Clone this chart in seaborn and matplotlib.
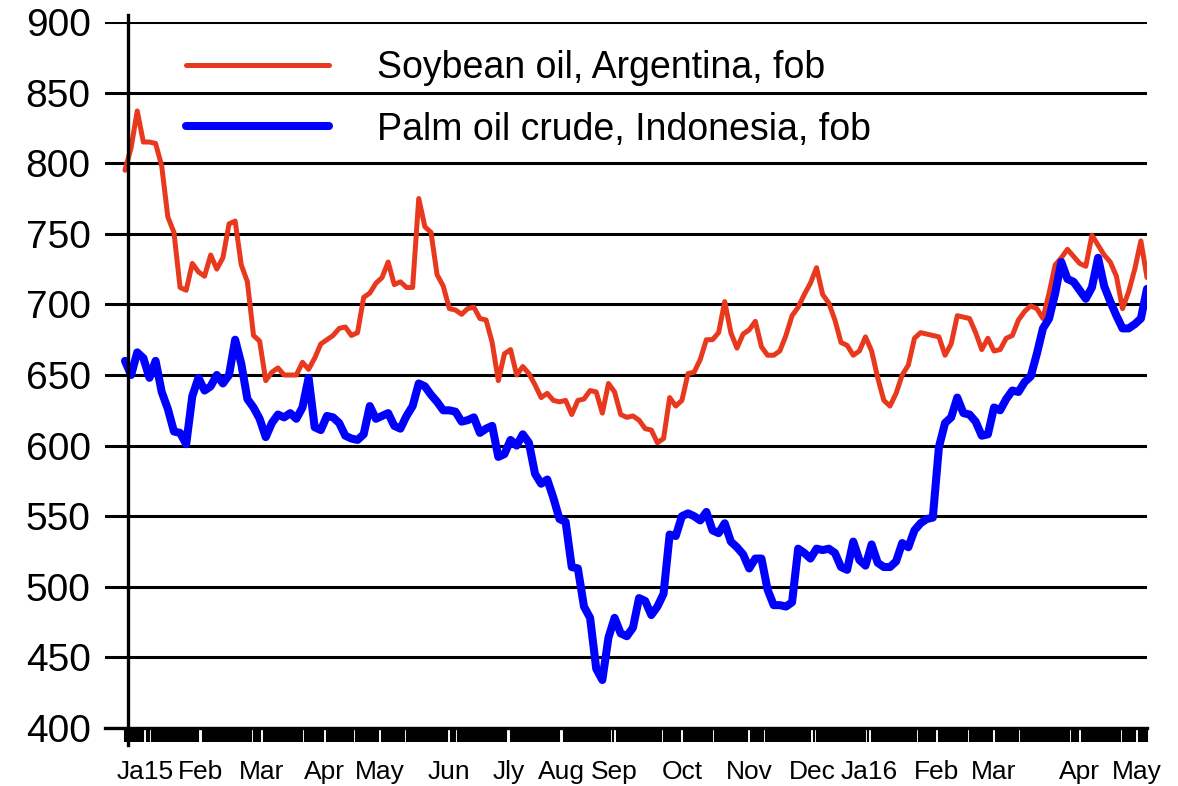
import pandas as pd
import numpy as np
import matplotlib.pyplot as plt
import matplotlib.dates as mdates
import seaborn as sns

# prices in USD/mt, every third day from 1 Jan 2015
dates = pd.date_range('2015-01-01', periods=168, freq='3D')

soybean = [795, 811, 837, 815, 815, 814, 798, 762, 751, 712,
           710, 729, 723, 720, 735, 725, 733, 757, 759, 728,
           716, 678, 674, 646, 652, 655, 650, 650, 650, 659,
           654, 662, 672, 675, 678, 683, 684, 678, 680, 705,
           708, 715, 719, 730, 714, 716, 712, 712, 775, 755,
           751, 721, 713, 697, 696, 693, 697, 698, 690, 689,
           673, 646, 665, 668, 650, 656, 651, 643, 634, 637,
           632, 631, 632, 622, 632, 633, 639, 638, 623, 644,
           638, 622, 620, 621, 618, 612, 611, 602, 605, 634,
           628, 632, 651, 652, 661, 675, 675, 680, 702, 680,
           669, 679, 682, 688, 670, 664, 664, 667, 678, 692,
           698, 707, 715, 726, 707, 701, 689, 673, 671, 664,
           667, 677, 667, 648, 632, 628, 637, 650, 657, 676,
           680, 679, 678, 677, 664, 672, 692, 691, 690, 680,
           668, 676, 667, 668, 676, 678, 689, 695, 699, 697,
           690, 708, 728, 733, 739, 734, 729, 727, 749, 742,
           735, 730, 720, 697, 709, 725, 745, 719]

palm = [660, 650, 666, 662, 648, 660, 638, 626, 610, 609,
        601, 635, 648, 639, 642, 650, 644, 650, 675, 658,
        633, 627, 619, 606, 616, 622, 620, 623, 619, 627,
        648, 613, 611, 621, 620, 616, 607, 605, 604, 608,
        628, 619, 621, 623, 614, 612, 621, 628, 644, 642,
        636, 631, 625, 625, 624, 617, 618, 620, 609, 612,
        614, 592, 594, 604, 600, 608, 602, 580, 573, 576,
        563, 548, 546, 514, 513, 486, 478, 442, 434, 464,
        478, 467, 465, 471, 492, 490, 480, 486, 495, 537,
        536, 550, 552, 550, 547, 553, 540, 538, 545, 532,
        528, 523, 513, 520, 520, 498, 487, 487, 486, 489,
        527, 524, 520, 527, 526, 527, 524, 514, 512, 532,
        519, 515, 530, 517, 514, 514, 518, 531, 528, 540,
        545, 548, 549, 599, 616, 620, 634, 623, 622, 617,
        607, 608, 627, 625, 633, 639, 638, 645, 649, 665,
        683, 690, 708, 730, 718, 716, 710, 704, 712, 733,
        713, 702, 692, 683, 683, 686, 690, 711]

month_labels = ['Ja15', 'Feb', 'Mar', 'Apr', 'May', 'Jun', 'Jly', 'Aug', 'Sep',
                'Oct', 'Nov', 'Dec', 'Ja16', 'Feb', 'Mar', 'Apr', 'May']
label_dates = pd.to_datetime(['2015-01-11', '2015-02-07', '2015-03-09', '2015-04-09',
                              '2015-05-06', '2015-06-09', '2015-07-08', '2015-08-03',
                              '2015-08-29', '2015-10-01', '2015-11-03', '2015-12-04',
                              '2016-01-01', '2016-02-03', '2016-03-02', '2016-04-13',
                              '2016-05-11'])

soy_name = 'Soybean oil, Argentina, fob'
palm_name = 'Palm oil crude, Indonesia, fob'
df = pd.DataFrame({'date': dates, soy_name: soybean, palm_name: palm})

sns.set_style('white')
plt.rcParams['font.family'] = ['Liberation Sans', 'DejaVu Sans']
plt.rcParams['text.color'] = 'black'

fig = plt.figure(figsize=(11.78, 7.86), dpi=100)
ax = fig.add_axes([105 / 1178, 58 / 786, 1042 / 1178, 706 / 786])

sns.lineplot(data=df, x='date', y=soy_name, color='#e8391e', linewidth=3.6,
             label=soy_name, ax=ax)
sns.lineplot(data=df, x='date', y=palm_name, color='#0000ff', linewidth=5.8,
             label=palm_name, ax=ax)

# axis limits and y grid
start = pd.Timestamp('2015-01-01')
ax.set_xlim(start - pd.Timedelta(days=9.8), start + pd.Timedelta(days=501))
ax.set_ylim(400, 900)
ax.set_yticks(range(400, 901, 50))
ax.set_axisbelow(True)
ax.yaxis.grid(True, color='black', linewidth=2.2)
ax.xaxis.grid(False)
ax.set_xlabel('')
ax.set_ylabel('')

# spines: y axis sits just right of the first data point
ax.spines['top'].set_visible(False)
ax.spines['right'].set_visible(False)
ax.spines['left'].set_position(('data', mdates.date2num(start + pd.Timedelta(days=1.5))))
ax.spines['left'].set_bounds(388, 905)
for side in ['left', 'bottom']:
    ax.spines[side].set_color('black')
    ax.spines[side].set_linewidth(2.4)

# ticks: dense daily marks along the bottom, month names below
ax.set_xticks(label_dates)
ax.set_xticklabels(month_labels)
ax.set_xticks(pd.date_range('2015-01-01', '2016-05-16', freq='D'), minor=True)
ax.tick_params(axis='x', which='major', length=0, pad=23, labelsize=19,
               labelcolor='black')
ax.tick_params(axis='x', which='minor', length=10, width=1.5, color='black',
               direction='out', bottom=True)
ax.tick_params(axis='y', length=0, pad=27, labelsize=28, labelcolor='black')

ax.legend(loc='upper left', bbox_to_anchor=((186 - 105) / 1042, (728 - 50) / 706),
          frameon=False, fontsize=27, handlelength=3.8, handletextpad=1.3,
          labelspacing=0.68, borderpad=0, borderaxespad=0)

fig.savefig('out.png', dpi=100)
